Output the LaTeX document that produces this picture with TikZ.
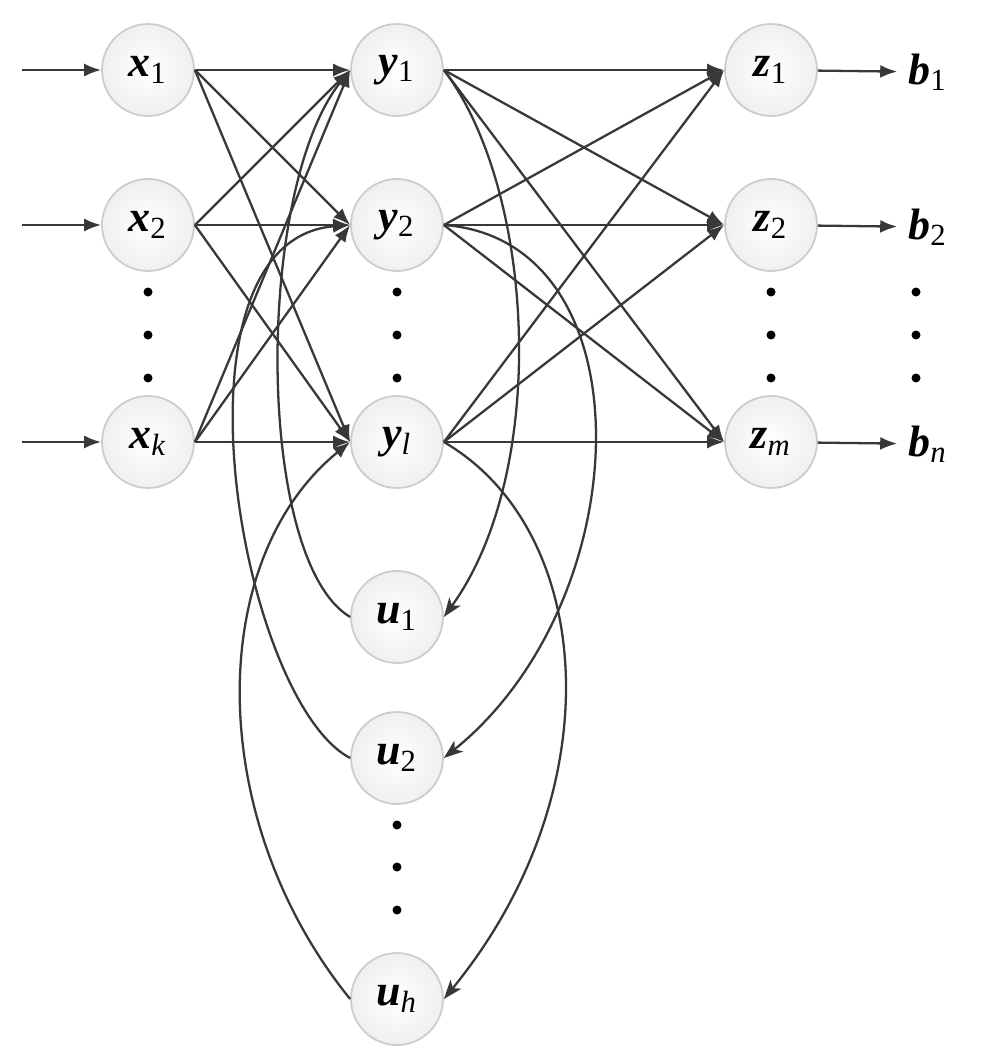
\documentclass[tikz,border=0pt]{standalone}
\usepackage{fontspec}
\setmainfont{Liberation Serif}
\usetikzlibrary{arrows.meta}
\newcommand{\lbl}[2]{{\bfseries\itshape #1}\textsubscript{#2}}
\tikzset{
  neuron/.style={circle, minimum size=0.92cm, inner sep=0pt, draw=gray!40, line width=0.5pt,
    inner color=white, outer color=gray!12, font=\fontsize{12.5}{14}\selectfont},
  outlbl/.style={inner sep=3pt, font=\fontsize{12.5}{14}\selectfont},
  link/.style={draw=black!78, line width=0.65pt, -{Latex[length=1.7mm,width=1.3mm]}},
  back/.style={draw=black!78, line width=0.65pt, -{Stealth[length=1.9mm,width=1.4mm,inset=0.5mm]}},
  dotp/.style={fill=black}
}
\begin{document}
\begin{tikzpicture}
\useasboundingbox (0,0) rectangle (9.86,-10.54);
% layer nodes
\node[neuron] (x1) at (1.48,-0.70) {\lbl{x}{1}};
\node[neuron] (x2) at (1.48,-2.25) {\lbl{x}{2}};
\node[neuron] (xk) at (1.48,-4.42) {\lbl{x}{\itshape k}};
\node[neuron] (y1) at (3.97,-0.70) {\lbl{y}{1}};
\node[neuron] (y2) at (3.97,-2.25) {\lbl{y}{2}};
\node[neuron] (yl) at (3.97,-4.42) {\lbl{y}{\itshape l}};
\node[neuron] (z1) at (7.71,-0.70) {\lbl{z}{1}};
\node[neuron] (z2) at (7.71,-2.25) {\lbl{z}{2}};
\node[neuron] (zm) at (7.71,-4.42) {\lbl{z}{\itshape m}};
\node[neuron] (u1) at (3.97,-6.17) {\lbl{u}{1}};
\node[neuron] (u2) at (3.97,-7.58) {\lbl{u}{2}};
\node[neuron] (uh) at (3.97,-9.99) {\lbl{u}{\itshape h}};
\node[outlbl] (b1) at (9.28,-0.72) {\lbl{b}{1}};
\node[outlbl] (b2) at (9.28,-2.27) {\lbl{b}{2}};
\node[outlbl] (bn) at (9.28,-4.44) {\lbl{b}{\itshape n}};
\coordinate (in1) at (0.22,-0.70);
\coordinate (in2) at (0.22,-2.25);
\coordinate (ink) at (0.22,-4.42);

% inputs and outputs
\draw[link] (in1)--(x1); \draw[link] (in2)--(x2); \draw[link] (ink)--(xk);
\draw[link] (z1)--(b1); \draw[link] (z2)--(b2); \draw[link] (zm)--(bn);

% full connections
\foreach \a in {x1,x2,xk}
  \foreach \b in {y1,y2,yl}
    \draw[link] (\a.east)--(\b.west);
\foreach \a in {y1,y2,yl}
  \foreach \b in {z1,z2,zm}
    \draw[link] (\a.east)--(\b.west);

% recurrent loops
\draw[back] (y1.east) .. controls (5.35,-1.90) and (5.50,-4.70) .. (u1.east);
\draw[back] (y2.east) .. controls (6.50,-2.40) and (6.40,-6.00) .. (u2.east);
\draw[back] (yl.east) .. controls (5.95,-5.30) and (6.15,-7.90) .. (uh.east);
\draw[link] (u1.west) .. controls (2.55,-5.60) and (2.55,-1.90) .. (y1.west);
\draw[link] (u2.west) .. controls (2.40,-7.00) and (1.60,-2.40) .. (y2.west);
\draw[link] (uh.west) .. controls (2.05,-8.20) and (2.05,-5.60) .. (yl.west);

% dots
\foreach \c in {1.48,3.97,7.71,9.16}
  \foreach \r in {-2.92,-3.35,-3.78}
    \fill[dotp] (\c,\r) circle (0.045);
\foreach \r in {-8.25,-8.67,-9.10}
  \fill[dotp] (3.97,\r) circle (0.045);
\end{tikzpicture}
\end{document}
